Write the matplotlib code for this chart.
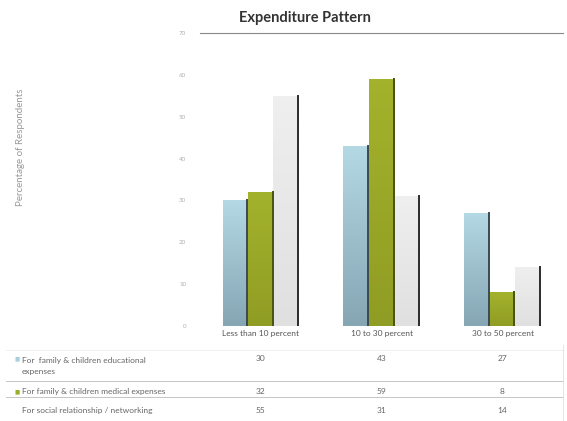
import numpy as np
import matplotlib.pyplot as plt
from matplotlib.lines import Line2D
from matplotlib.colors import LinearSegmentedColormap

plt.rcParams['font.family'] = ['Lato', 'DejaVu Sans']

categories = ['Less than 10 percent', '10 to 30 percent', '30 to 50 percent']
series_names = ['For  family & children educational\nexpenses',
                'For family & children medical expenses',
                'For social relationship / networking']
educational = [30, 43, 27]
medical = [32, 59, 8]
social = [55, 31, 14]
yticks = [0, 10, 20, 30, 40, 50, 60, 70]

values = [educational, medical, social]
# top / bottom colours for the gradient fill, plus the dark edge on the right
tops = ['#b4d8e4', '#a3b22c', '#efefef']
bottoms = ['#86a6b4', '#909d24', '#e0e0e0']
edges = ['#3b4a52', '#4a5212', '#2b2b2b']
markers = ['#a9cfdc', '#9aad2a', None]

fig = plt.figure(figsize=(5.67, 4.21), dpi=100)
ax = fig.add_axes([0.353, 0.2257, 0.64, 0.696])

x = np.arange(len(categories))
w = 0.21
offsets = [-w, 0, w]

for vals, off, top, bot, edge in zip(values, offsets, tops, bottoms, edges):
    bars = ax.bar(x + off, vals, width=w, color=top, zorder=2)
    grad = np.linspace(0, 1, 64).reshape(-1, 1)
    cmap = LinearSegmentedColormap.from_list('g', [bot, top])
    for b in bars:
        x0, h = b.get_x(), b.get_height()
        im = ax.imshow(grad, cmap=cmap, aspect='auto', origin='lower',
                       extent=[x0, x0 + w, 0, h], zorder=2)
        im.set_clip_path(b)
        ax.plot([x0 + w * 0.97, x0 + w * 0.97], [0, h], color=edge, lw=1.4, zorder=3)

ax.set_xlim(-0.5, 2.5)
ax.set_ylim(0, 70)
ax.set_yticks(yticks)
ax.set_yticklabels([str(t) for t in yticks], fontsize=4.5, color='#b0b0b0')
ax.tick_params(axis='y', length=0, pad=10)
ax.set_xticks(x)
ax.set_xticklabels(categories, fontsize=6, color='#555555')
ax.tick_params(axis='x', length=0, pad=3)
for s in ['left', 'right', 'bottom']:
    ax.spines[s].set_visible(False)
ax.spines['top'].set_color('#888888')
ax.spines['top'].set_linewidth(0.8)

fig.text(0.538, 0.958, 'Expenditure Pattern', fontsize=10.5, fontweight='bold',
         color='#333333', ha='center', va='center')
fig.text(0.037, 0.65, 'Percentage of Respondents', fontsize=7, color='#999999',
         rotation=90, ha='center', va='center')

# data table under the chart
row_y = [0.148, 0.069, 0.026]
label_y = [0.131, 0.069, 0.024]
for vals, ry, ly, name, mk in zip(values, row_y, label_y, series_names, markers):
    for xi, v in zip(x, vals):
        px = ax.transData.transform((xi, 0))[0] / fig.bbox.width
        fig.text(px, ry, str(v), fontsize=6, color='#666666', ha='center', va='center')
    fig.text(0.038, ly, name, fontsize=6, color='#666666', ha='left', va='center',
             linespacing=1.6)
    if mk:
        fig.text(0.03, ry, '\u25a0', fontsize=4, color=mk, ha='center', va='center')

fig.add_artist(Line2D([0.01, 0.993], [0.168, 0.168], color='#eeeeee', lw=0.6))
for yl in [0.095, 0.057]:
    fig.add_artist(Line2D([0.01, 0.993], [yl, yl], color='#bbbbbb', lw=0.6))
fig.add_artist(Line2D([0.993, 0.993], [0.0, 0.18], color='#e0e0e0', lw=0.6))

fig.savefig('out.png', dpi=100)
